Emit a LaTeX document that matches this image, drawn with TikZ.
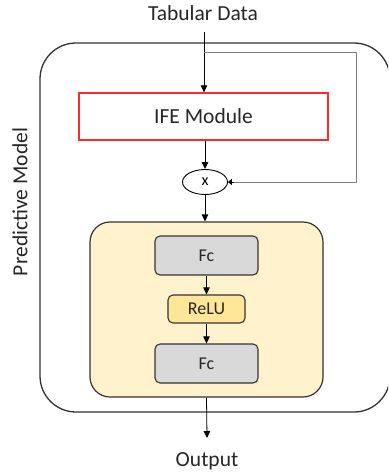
\documentclass[tikz,border=0pt]{standalone}
\usepackage{fontspec}
\setmainfont{Carlito}
\usetikzlibrary{shapes.geometric,arrows.meta}
\definecolor{boxyellow}{HTML}{FFF2CC}
\definecolor{reluyellow}{HTML}{FFE699}
\definecolor{fcgray}{HTML}{D9D9D9}
\definecolor{ifered}{HTML}{FF2A2A}
\definecolor{edgedark}{HTML}{333333}
\definecolor{fbgray}{HTML}{808080}
\tikzset{
  lbl/.style={font=\fontsize{21.5}{25}\selectfont, text=black!85, inner sep=0pt},
  smallbox/.style={draw=edgedark, line width=1.1pt, rounded corners=5pt, font=\fontsize{18}{21}\selectfont, text=black!85, inner sep=0pt},
  conn/.style={draw=black, line width=0.8pt, -{Triangle[length=7pt,width=6.5pt]}},
}
\begin{document}
\begin{tikzpicture}[x=1pt,y=-1pt]
\useasboundingbox (0,0) rectangle (388,476);
\clip (0,0) rectangle (388,476);
% outer container
\draw[edgedark, line width=1.3pt, rounded corners=36pt] (40,43) rectangle (390,412);
\node[lbl, rotate=90] (pm) at (20,202) {Predictive Model};
% title and output
\node[lbl] (title) at (203,13) {Tabular Data};
\node[lbl] (out) at (207,461) {Output};
% IFE module
\node[draw=ifered, line width=1.3pt, minimum width=249pt, minimum height=47pt, inner sep=0pt, lbl] (ife) at (203.5,116.5) {IFE Module};
% multiply
\node[draw=black, line width=0.9pt, ellipse, minimum width=45pt, minimum height=25pt, inner sep=0pt, font=\fontsize{16}{18}\selectfont] (mul) at (205,182) {x};
% yellow block
\node[draw=edgedark, fill=boxyellow, line width=1.2pt, rounded corners=20pt, minimum width=233pt, minimum height=175pt] (blk) at (206.5,309.5) {};
\node[smallbox, fill=fcgray, minimum width=103pt, minimum height=39pt] (fc1) at (206.5,255.5) {Fc};
\node[smallbox, fill=reluyellow, minimum width=77pt, minimum height=28pt] (relu) at (206.5,309) {ReLU};
\node[smallbox, fill=fcgray, minimum width=103pt, minimum height=39pt] (fc2) at (206.5,363.5) {Fc};
% coordinates
\coordinate (in) at (204,32);
\coordinate (br) at (204,52);
\coordinate (fbr) at (356,52);
\coordinate (outend) at (207,438);
% connectors
\draw[conn] (in) -- (ife.north -| in);
\draw[fbgray, line width=0.9pt] (br) -- (fbr) |- (mul.east);
\draw[black, line width=0.9pt, -{Triangle[length=4pt,width=6pt]}] ([xshift=6pt]mul.east) -- (mul.east);
\draw[conn] (ife.south -| mul) -- (mul.north);
\draw[conn] (mul.south) -- (blk.north -| mul);
\draw[conn] (fc1.south) -- (relu.north);
\draw[conn] (relu.south) -- (fc2.north);
\draw[conn] (blk.south) -- (outend);
\end{tikzpicture}
\end{document}
